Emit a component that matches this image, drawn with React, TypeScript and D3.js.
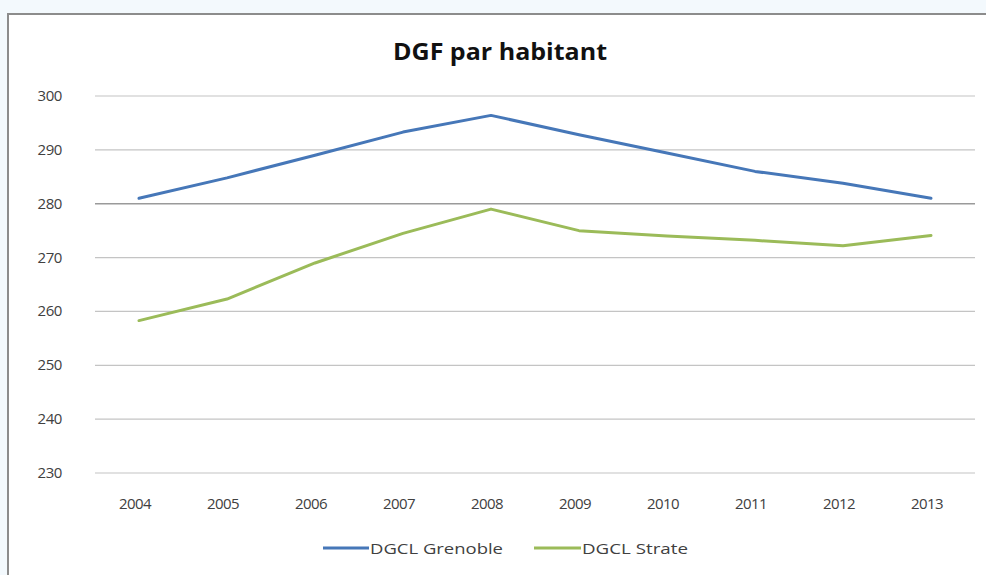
import React from "react";
import * as d3 from "d3";

const years = ["2004","2005","2006","2007","2008","2009","2010","2011","2012","2013"];
const grenoble = [281, 284.8, 289, 293.3, 296.4, 292.8, 289.4, 286, 283.8, 281];
const strate = [258.3, 262.3, 269, 274.5, 279, 275, 274, 273.2, 272.2, 274.1];
const yTicks = [230, 240, 250, 260, 270, 280, 290, 300];
const seriesNames = ["DGCL Grenoble", "DGCL Strate"];
const colors = ["#4677B8", "#9BBB59"];

export default function App() {
  const W = 986, H = 575;
  const left = 95, right = 975, top = 96, bottom = 473;
  const x = d3.scaleBand().domain(years).range([left, right]);
  const y = d3.scaleLinear().domain([230, 300]).range([bottom, top]);
  const line = d3.line<number>()
    .x((_, i) => (x(years[i]) as number) + x.bandwidth() / 2)
    .y((d) => y(d));
  const font = "'Open Sans', 'Noto Sans', sans-serif";
  const series = [grenoble, strate];
  const legendPos = [
    { lx: 323, tx: 370, tl: 133 },
    { lx: 534, tx: 582, tl: 106 },
  ];
  return (
    <svg width={W} height={H} style={{ position: "absolute", left: 0, top: 0 }}>
      <rect x={0} y={0} width={W} height={H} fill="#f3f9fd" />
      <rect x={8} y={14} width={W} height={H} fill="#ffffff" stroke="#8c8c8c" strokeWidth={2} />
      <text x={393} y={60} fontFamily={font} fontWeight="bold" fontSize={23.5} fill="#111" textLength={214} lengthAdjust="spacingAndGlyphs">
        DGF par habitant
      </text>
      {yTicks.map((t) => (
        <g key={t}>
          <line x1={left} x2={right} y1={y(t)} y2={y(t)} stroke={t === 280 ? "#9a9a9a" : "#c4c4c4"} strokeWidth={t === 280 ? 1.6 : 1.2} />
          <text x={62} y={y(t) + 5} textAnchor="end" fontFamily={font} fontSize={15} fill="#404040" letterSpacing={-0.4}>
            {t}
          </text>
        </g>
      ))}
      {years.map((yr) => (
        <text key={yr} x={(x(yr) as number) + x.bandwidth() / 2 - 4} y={509} textAnchor="middle" fontFamily={font} fontSize={15} fill="#404040" letterSpacing={-0.6}>
          {yr}
        </text>
      ))}
      {series.map((s, i) => (
        <path key={i} d={line(s) || ""} fill="none" stroke={colors[i]} strokeWidth={3} strokeLinejoin="round" strokeLinecap="round" />
      ))}
      {seriesNames.map((n, i) => {
        const p = legendPos[i];
        return (
          <g key={n}>
            <line x1={p.lx} x2={p.tx - 1} y1={548} y2={548} stroke={colors[i]} strokeWidth={2.8} />
            <text x={p.tx} y={553.5} fontFamily={font} fontSize={15} fill="#404040" textLength={p.tl} lengthAdjust="spacingAndGlyphs">
              {n}
            </text>
          </g>
        );
      })}
    </svg>
  );
}
